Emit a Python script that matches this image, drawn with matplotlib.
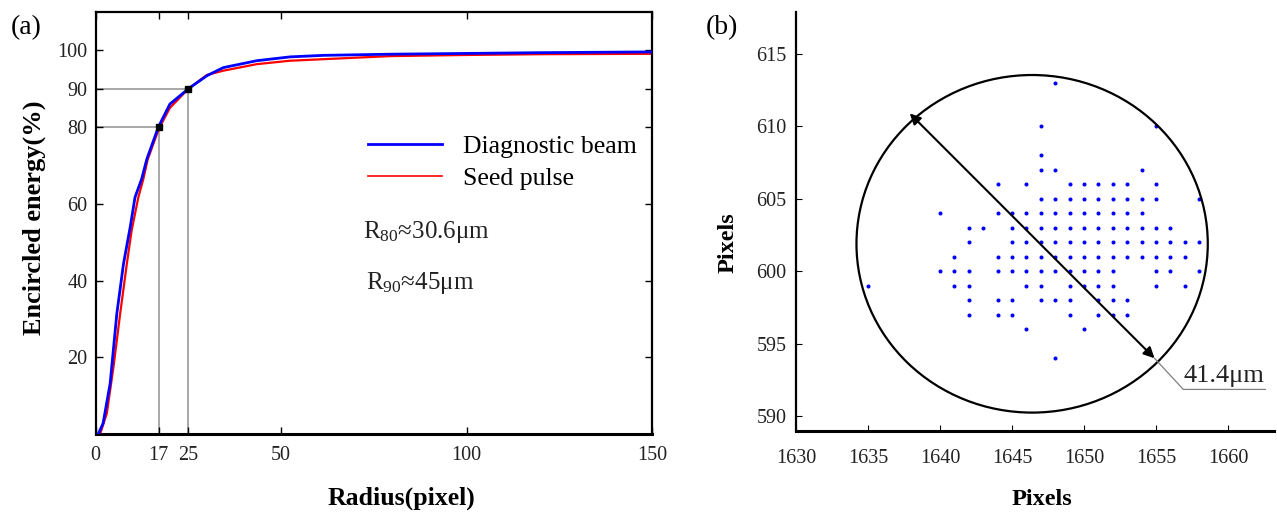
import matplotlib
matplotlib.use("Agg")
import matplotlib.pyplot as plt
from matplotlib.patches import Ellipse

plt.rcParams['font.family'] = ['Liberation Serif', 'DejaVu Serif']
plt.rcParams['mathtext.fontset'] = 'custom'
plt.rcParams['mathtext.rm'] = 'Liberation Serif'
plt.rcParams['mathtext.it'] = 'Liberation Serif:italic'
plt.rcParams['mathtext.bf'] = 'Liberation Serif:bold'

# ---------------- Panel (a) data ----------------
r_blue = [0.7, 2.0, 3.9, 5.7, 7.5, 9.3, 10.6, 12.4, 13.8, 16.9, 20.0, 25.0, 30.0,
          34.4, 43.4, 52.4, 61.4, 79.4, 100.0, 120.0, 150.0]
e_blue = [0.0, 2.8, 13.2, 31.4, 44.4, 53.9, 61.7, 66.5, 71.7, 80.0, 86.0, 90.0, 93.4,
          95.5, 97.3, 98.3, 98.7, 99.0, 99.2, 99.4, 99.6]
r_red = [1.2, 3.0, 4.8, 6.6, 8.4, 9.7, 11.5, 12.8, 14.0, 17.0, 20.0, 25.0, 30.0,
         34.4, 43.4, 52.4, 61.4, 79.4, 100.0, 120.0, 150.0]
e_red = [0.0, 5.4, 17.5, 31.4, 44.4, 53.1, 61.7, 66.3, 71.5, 79.5, 85.0, 90.0, 93.6,
         94.7, 96.4, 97.3, 97.7, 98.5, 98.8, 99.0, 99.1]
series_labels = ["Diagnostic beam", "Seed pulse"]
mark_r = [17, 25]
mark_e = [80, 90]
a_xticks = [0, 17, 25, 50, 100, 150]
a_yticks = [20, 40, 60, 80, 90, 100]
r80_text = "R$_{80}$≈30.6μm"
r90_text = "R$_{90}$≈45μm"

# ---------------- Panel (b) data ----------------
row_613 = [1648]
row_610 = [1647, 1655]
row_608 = [1647]
row_607 = [1647, 1648, 1654]
row_606 = [1644, 1646, 1649, 1650, 1651, 1652, 1653, 1655]
row_605 = [1647, 1648, 1649, 1650, 1651, 1652, 1653, 1654, 1655, 1658]
row_604 = [1640, 1644, 1645, 1646, 1647, 1648, 1649, 1650, 1651, 1652, 1653, 1654]
row_603 = [1642, 1643, 1645, 1646, 1647, 1648, 1649, 1650, 1651, 1652, 1653, 1654, 1655, 1656]
row_602 = [1642, 1645, 1646, 1647, 1648, 1649, 1650, 1651, 1652, 1653, 1654, 1655, 1656, 1657, 1658]
row_601 = [1641, 1644, 1645, 1646, 1647, 1648, 1649, 1650, 1651, 1652, 1653, 1654, 1655, 1656, 1657]
row_600 = [1640, 1641, 1642, 1644, 1645, 1646, 1647, 1648, 1649, 1650, 1651, 1652, 1655, 1656, 1658]
row_599 = [1635, 1641, 1642, 1646, 1647, 1649, 1650, 1651, 1652, 1655, 1657]
row_598 = [1642, 1644, 1645, 1647, 1648, 1649, 1651, 1652, 1653]
row_597 = [1642, 1644, 1645, 1649, 1651, 1652, 1653]
row_596 = [1646, 1650]
row_594 = [1648]
rows = {613: row_613, 610: row_610, 608: row_608, 607: row_607, 606: row_606,
        605: row_605, 604: row_604, 603: row_603, 602: row_602, 601: row_601,
        600: row_600, 599: row_599, 598: row_598, 597: row_597, 596: row_596,
        594: row_594}
circle_center = (1646.4, 601.9)
circle_w, circle_h = 24.4, 23.3
arrow_start = (1637.9, 610.9)
arrow_end = (1654.9, 594.0)
leader_x = [1654.9, 1656.9, 1662.6]
leader_y = [594.0, 591.85, 591.85]
diam_label = "41.4μm"
b_xticks = [1630, 1635, 1640, 1645, 1650, 1655, 1660]
b_yticks = [590, 595, 600, 605, 610, 615]

W, H = 1277, 517
fig = plt.figure(figsize=(W / 100, H / 100), dpi=100)

# ================= Panel (a) =================
axa = fig.add_axes([95.7 / W, 1 - 434 / H, (652 - 95.7) / W, (434 - 12) / H])
axa.set_xlim(0, 150)
axa.set_ylim(0, 110)

axa.plot([0, mark_r[1]], [mark_e[1], mark_e[1]], color='#a8a8a8', lw=1.4, zorder=1)
axa.plot([0, mark_r[0]], [mark_e[0], mark_e[0]], color='#a8a8a8', lw=1.4, zorder=1)
axa.plot([mark_r[0], mark_r[0]], [0, mark_e[0]], color='#a8a8a8', lw=1.4, zorder=1)
axa.plot([mark_r[1], mark_r[1]], [0, mark_e[1]], color='#a8a8a8', lw=1.4, zorder=1)

l_red, = axa.plot(r_red, e_red, color='#ff0000', lw=1.6, zorder=2)
l_blue, = axa.plot(r_blue, e_blue, color='#0000ff', lw=2.0, zorder=3)
axa.plot(mark_r, mark_e, ls='none', marker='s', ms=4.5, color='black', zorder=4)

leg = axa.legend([l_blue, l_red], series_labels, loc='center left',
                 bbox_to_anchor=(0.489, 0.643), frameon=False, fontsize=18.5,
                 handlelength=2.9, handletextpad=0.8, labelspacing=0.35,
                 borderpad=0, borderaxespad=0)
leg.get_lines()[1].set_linewidth(1.2)

axa.text(0.48, 0.479, r80_text, transform=axa.transAxes, fontsize=18,
         va='center', ha='left', color='#222222')
axa.text(0.485, 0.358, r90_text, transform=axa.transAxes, fontsize=18,
         va='center', ha='left', color='#222222')

axa.set_xticks(a_xticks)
axa.set_yticks(a_yticks)
axa.tick_params(direction='in', length=5, width=1, top=True, right=True,
                labelsize=14.5, colors='black', labelcolor='#222222')
axa.tick_params(axis='x', pad=9)
axa.tick_params(axis='y', pad=6)
for s in axa.spines.values():
    s.set_linewidth(1.6)
axa.spines['bottom'].set_linewidth(2.2)

axa.set_xlabel("Radius(pixel)", fontsize=18.5, fontweight='bold', va='center')
axa.xaxis.set_label_coords(0.549, -0.152)
axa.set_ylabel("Encircled energy(%)", fontsize=19, fontweight='bold', va='center')
axa.yaxis.set_label_coords(-0.111, 0.512)

fig.text(26 / W, 1 - 28 / H, "(a)", fontsize=20, ha='center', va='center')

# ================= Panel (b) =================
axb = fig.add_axes([796 / W, 1 - 430.7 / H, (1274 - 796) / W, (430.7 - 12) / H])
axb.set_xlim(1630, 1663.2)
axb.set_ylim(589, 617.9)

for yv, xs in rows.items():
    axb.plot(xs, [yv] * len(xs), ls='none', marker='o', ms=2.9, color='#0000ff',
             markeredgewidth=0, zorder=2)

axb.add_patch(Ellipse(circle_center, circle_w, circle_h, fill=False,
                      edgecolor='black', lw=1.6, zorder=3))
axb.annotate("", xy=arrow_end, xytext=arrow_start,
             arrowprops=dict(arrowstyle='<|-|>', color='black', lw=1.5,
                             mutation_scale=16, shrinkA=0, shrinkB=0), zorder=4)
axb.plot(leader_x, leader_y, color='#808080', lw=0.9, zorder=3, clip_on=False)
axb.text(1656.9, 592.0, diam_label, fontsize=19, ha='left', va='bottom',
         color='#222222')

axb.set_xticks(b_xticks)
axb.set_yticks(b_yticks)
axb.tick_params(direction='in', length=4, width=0.8, labelsize=14.5,
                colors='black', labelcolor='#222222')
axb.tick_params(axis='x', pad=13)
axb.tick_params(axis='y', pad=7)
axb.spines['top'].set_visible(False)
axb.spines['right'].set_visible(False)
axb.spines['left'].set_linewidth(1.6)
axb.spines['bottom'].set_linewidth(2.2)

axb.set_xlabel("Pixels", fontsize=17.5, fontweight='bold', va='center')
axb.xaxis.set_label_coords(0.515, -0.165)
axb.set_ylabel("Pixels", fontsize=17.5, fontweight='bold', va='center')
axb.yaxis.set_label_coords(-0.142, 0.448)

fig.text(722 / W, 1 - 28 / H, "(b)", fontsize=20, ha='center', va='center')

fig.savefig("out.png", dpi=100)
